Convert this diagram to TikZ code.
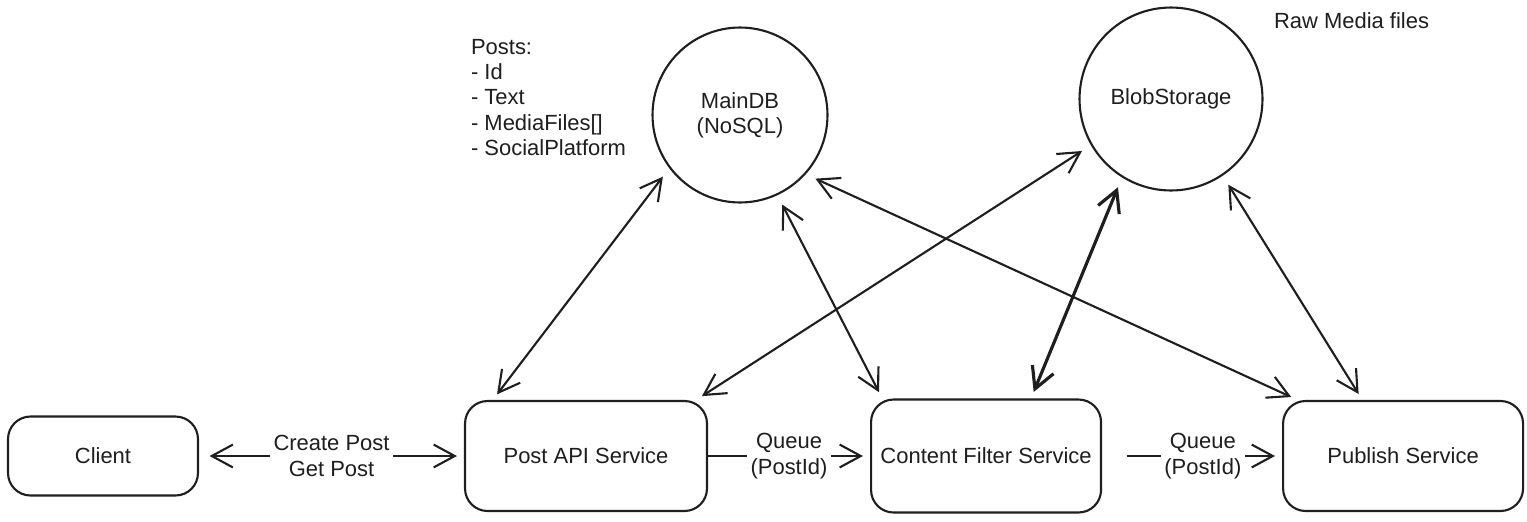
\documentclass[tikz,border=0pt]{standalone}
\usepackage{fontspec}
\setmainfont{Liberation Sans}
\usepackage{tikz}
\usetikzlibrary{arrows.meta,positioning}
\definecolor{ink}{HTML}{1E1E1E}

\begin{document}
\begin{tikzpicture}[x=0.02cm,y=-0.02cm,color=ink,line width=1.2pt,
	>={Straight Barb[length=12pt,width=13pt]},
	font=\fontsize{12.5}{14.4}\selectfont,
	service/.style={draw,rounded corners=0.45cm,minimum height=2.2cm},
	store/.style={draw,circle,minimum size=3.5cm,align=center},
	note/.style={inner sep=0pt,align=left},
	tag/.style={fill=white,inner sep=2pt,align=center}]
	\useasboundingbox (0,0) rectangle (1527,521);

	\node[service,minimum width=3.8cm,minimum height=1.58cm] (client) at (103,456) {Client};
	\node[service,minimum width=4.84cm] (post_api) [right=5.3cm of client] {Post API Service};
	\node[service,minimum width=4.6cm,minimum height=2.26cm] (filter) [right=3.24cm of post_api] {Content Filter Service};
	\node[service,minimum width=4.8cm] (publish) [right=3.6cm of filter] {Publish Service};

	\node[store] (main_db) at (740,115) {MainDB\\(NoSQL)};
	\node[store,minimum size=3.66cm] (blob) at (1171,99) {BlobStorage};

	\node[note,anchor=north west] (posts) at (470,38) {Posts:\\- Id\\- Text\\- MediaFiles[]\\- SocialPlatform};
	\node[note,anchor=west] (raw) at (1273,21) {Raw Media files};

	\path[<->,shorten <=6pt,shorten >=4pt]
	(client) edge node[tag] {Create Post\\Get Post} (post_api)
	(post_api) edge[->,shorten <=0pt] node[tag] {Queue\\(PostId)} (filter)
	(filter) edge[->,shorten <=14pt] node[tag,pos=0.56] {Queue\\(PostId)} (publish)
	(main_db.217) edge (post_api.149)
	(main_db.295) edge (filter.151)
	(main_db.318) edge (publish.152)
	(blob.210) edge (post_api.27)
	(blob.238) edge[line width=1.8pt] (filter.52)
	(blob.304) edge (publish.126);
\end{tikzpicture}
\end{document}
